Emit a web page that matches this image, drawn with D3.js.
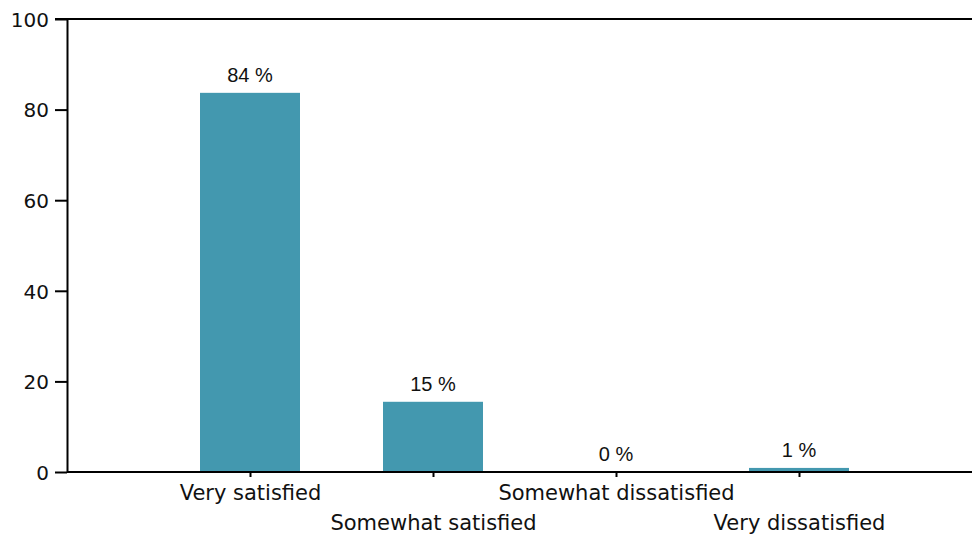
<!DOCTYPE html>
<meta charset="utf-8">
<head>
    <script type="text/javascript" src="https://d3js.org/d3.v7.min.js"></script>
    <style>
        body { margin: 0; background: #fff; }
        .axis path, .axis line { stroke: #000; stroke-width: 2px; }
        .axis text { font-family: "DejaVu Sans", Verdana, sans-serif; font-size: 20px; fill: #111; }
        .xaxis text { font-size: 21px; }
        .val { font-family: "Liberation Sans", Arial, sans-serif; font-size: 20px; fill: #111; }
    </style>
</head>
<body>
<script>
    // data
    var categories = ["Very satisfied", "Somewhat satisfied", "Somewhat dissatisfied", "Very dissatisfied"];
    var values = [83.7, 15.5, 0, 0.9];
    var labels = ["84 %", "15 %", "0 %", "1 %"];
    var yTicks = [0, 20, 40, 60, 80, 100];

    var w = 972, h = 536;
    var margin = {top: 19, left: 67, bottom: 64};
    var plotW = 915;               // runs past the right edge, like the original
    var plotH = h - margin.top - margin.bottom;

    var svg = d3.select("body").append("svg")
        .attr("width", w)
        .attr("height", h);

    var x = d3.scalePoint().domain(categories).range([0, plotW]).padding(1);
    var y = d3.scaleLinear().domain([0, 100]).range([plotH, 0]);

    var g = svg.append("g").attr("transform", "translate(" + margin.left + "," + margin.top + ")");

    // top frame line
    g.append("line")
        .attr("x1", -12).attr("x2", w)
        .attr("y1", 0).attr("y2", 0)
        .attr("stroke", "#000").attr("stroke-width", 2);

    var barW = 100;
    g.selectAll("rect.bar")
        .data(values)
        .enter().append("rect")
        .attr("class", "bar")
        .attr("x", function(d, i) { return x(categories[i]) - barW / 2; })
        .attr("y", function(d) { return y(d); })
        .attr("width", barW)
        .attr("height", function(d) { return plotH - y(d); })
        .attr("fill", "#4398af");

    // y axis
    g.append("g")
        .attr("class", "axis")
        .call(d3.axisLeft(y).tickValues(yTicks).tickSize(12).tickPadding(6).tickSizeOuter(0))
        .call(function(a) { a.selectAll("text").attr("dy", "0.36em"); });

    // x axis
    var xa = g.append("g")
        .attr("class", "axis xaxis")
        .attr("transform", "translate(0," + plotH + ")")
        .call(d3.axisBottom(x).tickSize(5).tickSizeOuter(0).tickPadding(0));
    xa.select(".domain").attr("d", "M0,0H" + w);
    xa.selectAll("text")
        .attr("dy", null)
        .attr("y", function(d, i) { return i % 2 == 0 ? 28 : 58; });

    // value labels
    g.selectAll("text.val")
        .data(values)
        .enter().append("text")
        .attr("class", "val")
        .attr("text-anchor", "middle")
        .attr("x", function(d, i) { return x(categories[i]); })
        .attr("y", function(d) { return y(d) - 11; })
        .text(function(d, i) { return labels[i]; });
</script>
</body>
</html>
